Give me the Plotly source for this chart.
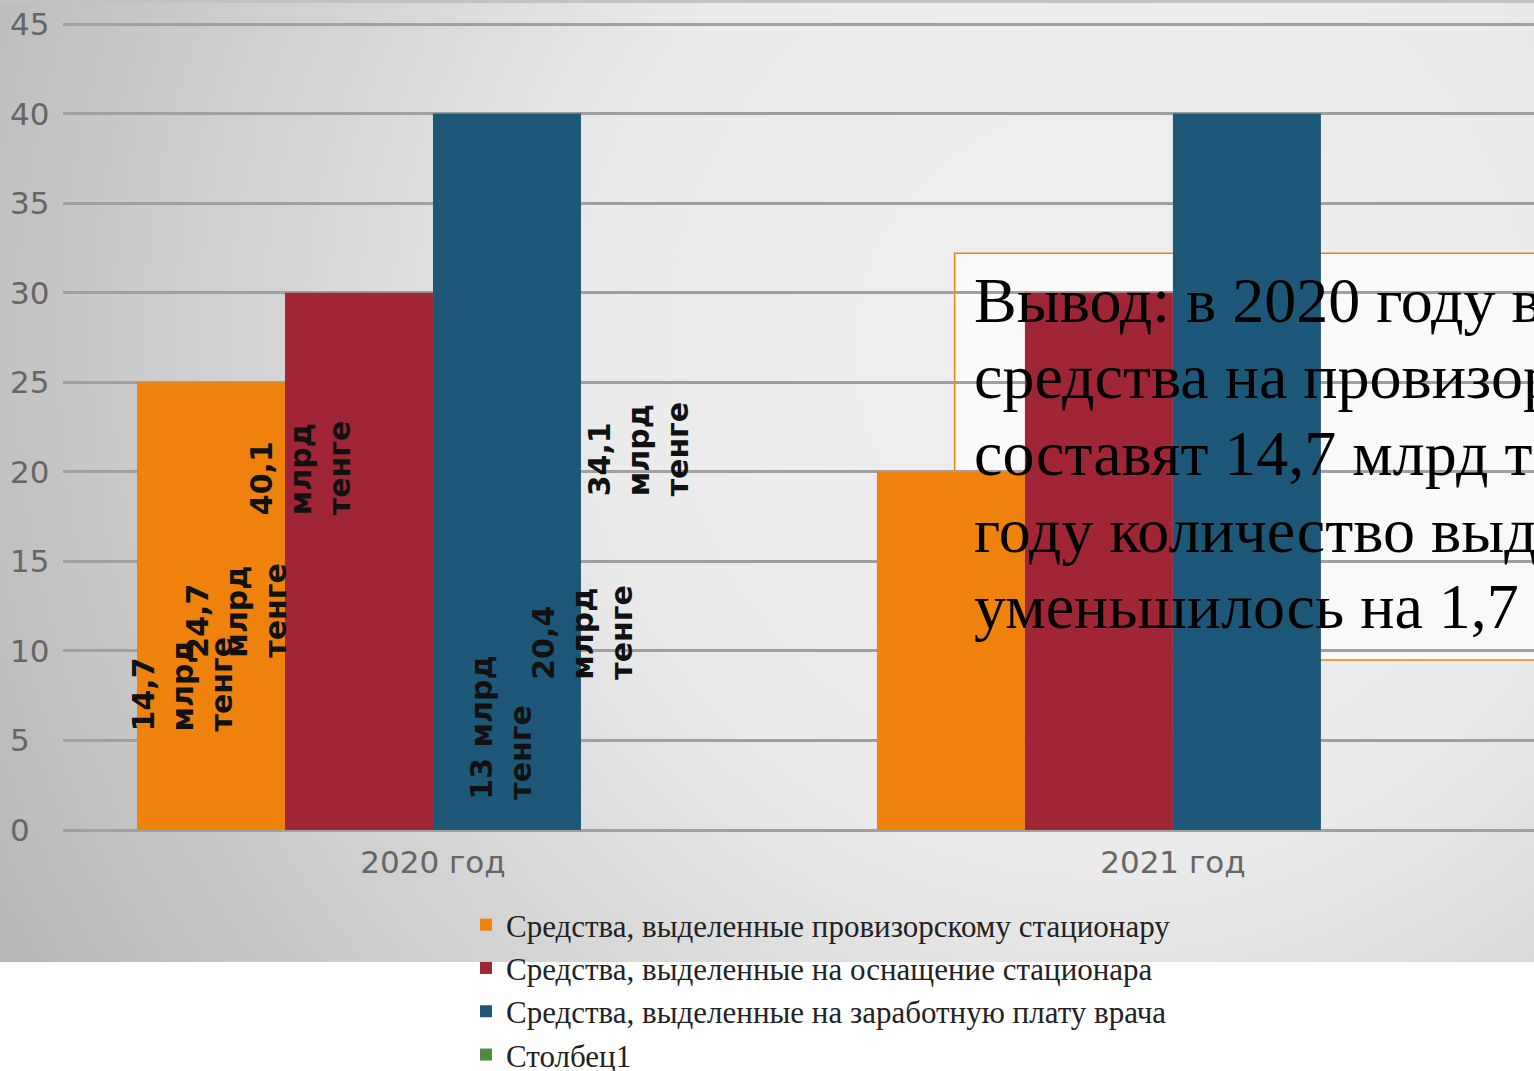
import base64
import plotly.graph_objects as go

# ---------------- data ----------------
categories = ["2020 год", "2021 год"]
series_names = [
    "Средства, выделенные провизорскому стационару",
    "Средства, выделенные на оснащение стационара",
    "Средства, выделенные на заработную плату врача",
    "Столбец1",
]
provisional = [25, 20]
equipment = [30, 30]
salary = [40, 40]
column1 = [None, None]
series_values = [provisional, equipment, salary, column1]
series_colors = ["#ef820c", "#a02636", "#1e5879", "#4f8b3f"]

y_ticks = [0, 5, 10, 15, 20, 25, 30, 35, 40, 45]

label_texts = [
    "14,7<br>млрд<br>тенге",
    "24,7<br>млрд<br>тенге",
    "40,1<br>млрд<br>тенге",
    "13 млрд<br>тенге",
    "20,4<br>млрд<br>тенге",
    "34,1<br>млрд<br>тенге",
]

conclusion_lines = [
    "Вывод: в 2020 году в",
    "средства на провизор",
    "составят 14,7 млрд те",
    "году количество выд",
    "уменьшилось на 1,7",
]

# ---------------- layout geometry (pixels) ----------------
W, H = 1534, 1071
Y0_PX = 830          # pixel row of value 0
PX_PER_UNIT = 806 / 45
L, R, T, B = 63, 0, 0, H - Y0_PX
PW = W - L - R
PH = H - T - B
Y_MAX = Y0_PX / PX_PER_UNIT
BG_H = 962


def px_x(px):
    return (px - L) / PW


def px_y(py):
    return (H - B - py) / PH


# label placement (category offset, value) in data units
label_pos = [(-0.339, 5.40), (-0.266, 9.52), (-0.178, 17.48),
             (0.0915, 1.56), (0.201, 8.26), (0.279, 18.54)]

fig = go.Figure()
for name, vals, col in zip(series_names, series_values, series_colors):
    fig.add_trace(go.Bar(
        x=categories, y=vals, name=name,
        marker=dict(color=col, line=dict(width=0)),
        hoverinfo="skip",
    ))

# gradient background
svg = (
    f'<svg xmlns="http://www.w3.org/2000/svg" width="{W}" height="{BG_H}" '
    f'viewBox="0 0 {W} {BG_H}" preserveAspectRatio="none">'
    '<defs><radialGradient id="g" gradientUnits="userSpaceOnUse" '
    'cx="1100" cy="350" r="1260">'
    '<stop offset="0" stop-color="#efefef"/>'
    '<stop offset="0.4" stop-color="#ebebeb"/>'
    '<stop offset="1" stop-color="#b6b6b6"/>'
    '</radialGradient></defs>'
    f'<rect width="{W}" height="{BG_H}" fill="url(#g)"/>'
    f'<rect width="{W}" height="3" fill="#c2c2c2"/></svg>'
)
src = "data:image/svg+xml;base64," + base64.b64encode(svg.encode()).decode()
fig.add_layout_image(dict(
    source=src, xref="paper", yref="paper",
    x=px_x(0), y=px_y(0), sizex=W / PW, sizey=BG_H / PH,
    xanchor="left", yanchor="top", sizing="stretch", layer="below",
))

# conclusion text box
fig.add_shape(type="rect", xref="x", yref="y",
              x0=0.705, x1=1.7, y0=9.49, y1=32.2,
              line=dict(color="#ef820c", width=1.5),
              fillcolor="rgba(255,255,255,0.7)", layer="below")

annotations = []
for txt, (dx, vy) in zip(label_texts, label_pos):
    annotations.append(dict(
        x=dx, y=vy, xref="x", yref="y", text="<b>" + txt + "</b>",
        showarrow=False, textangle=-90, align="left",
        xanchor="center", yanchor="bottom",
        font=dict(family="DejaVu Sans", size=30, color="#111111"),
    ))

baselines = [322, 398, 475, 552, 628]
for line, bl in zip(conclusion_lines, baselines):
    annotations.append(dict(
        x=px_x(972), y=px_y(bl - 22), xref="paper", yref="paper",
        text=line, showarrow=False, xanchor="left", yanchor="middle",
        font=dict(family="Liberation Serif", size=64, color="#000000"),
    ))

for v in y_ticks:
    annotations.append(dict(
        x=px_x(8), y=v, xref="paper", yref="y", text=str(v),
        showarrow=False, xanchor="left", yanchor="middle",
        font=dict(family="DejaVu Sans", size=31, color="#666666"),
    ))

fig.update_layout(
    width=W, height=H,
    margin=dict(l=L, r=R, t=T, b=B, pad=0, autoexpand=False),
    paper_bgcolor="#ffffff", plot_bgcolor="rgba(0,0,0,0)",
    barmode="group", bargap=0.2, bargroupgap=0,
    showlegend=True,
    legend=dict(
        x=px_x(466), y=px_y(898), xanchor="left", yanchor="top",
        bgcolor="rgba(0,0,0,0)", traceorder="normal",
        font=dict(family="Liberation Serif", size=31, color="#222222"),
        itemclick=False, itemdoubleclick=False,
    ),
    annotations=annotations,
    xaxis=dict(
        type="category", range=[-0.5, 1.488], showgrid=False,
        showline=False, ticks="", ticklabelstandoff=11,
        tickfont=dict(family="DejaVu Sans", size=31, color="#666666"),
    ),
    yaxis=dict(
        range=[0, Y_MAX], tickvals=y_ticks, showticklabels=False,
        showgrid=True, gridcolor="#a0a0a0", gridwidth=3,
        zeroline=True, zerolinecolor="#a0a0a0", zerolinewidth=3,
        showline=False,
    ),
)

fig.write_html("out.html", config={"displayModeBar": False},
               post_script="document.body.style.margin='0px';")
